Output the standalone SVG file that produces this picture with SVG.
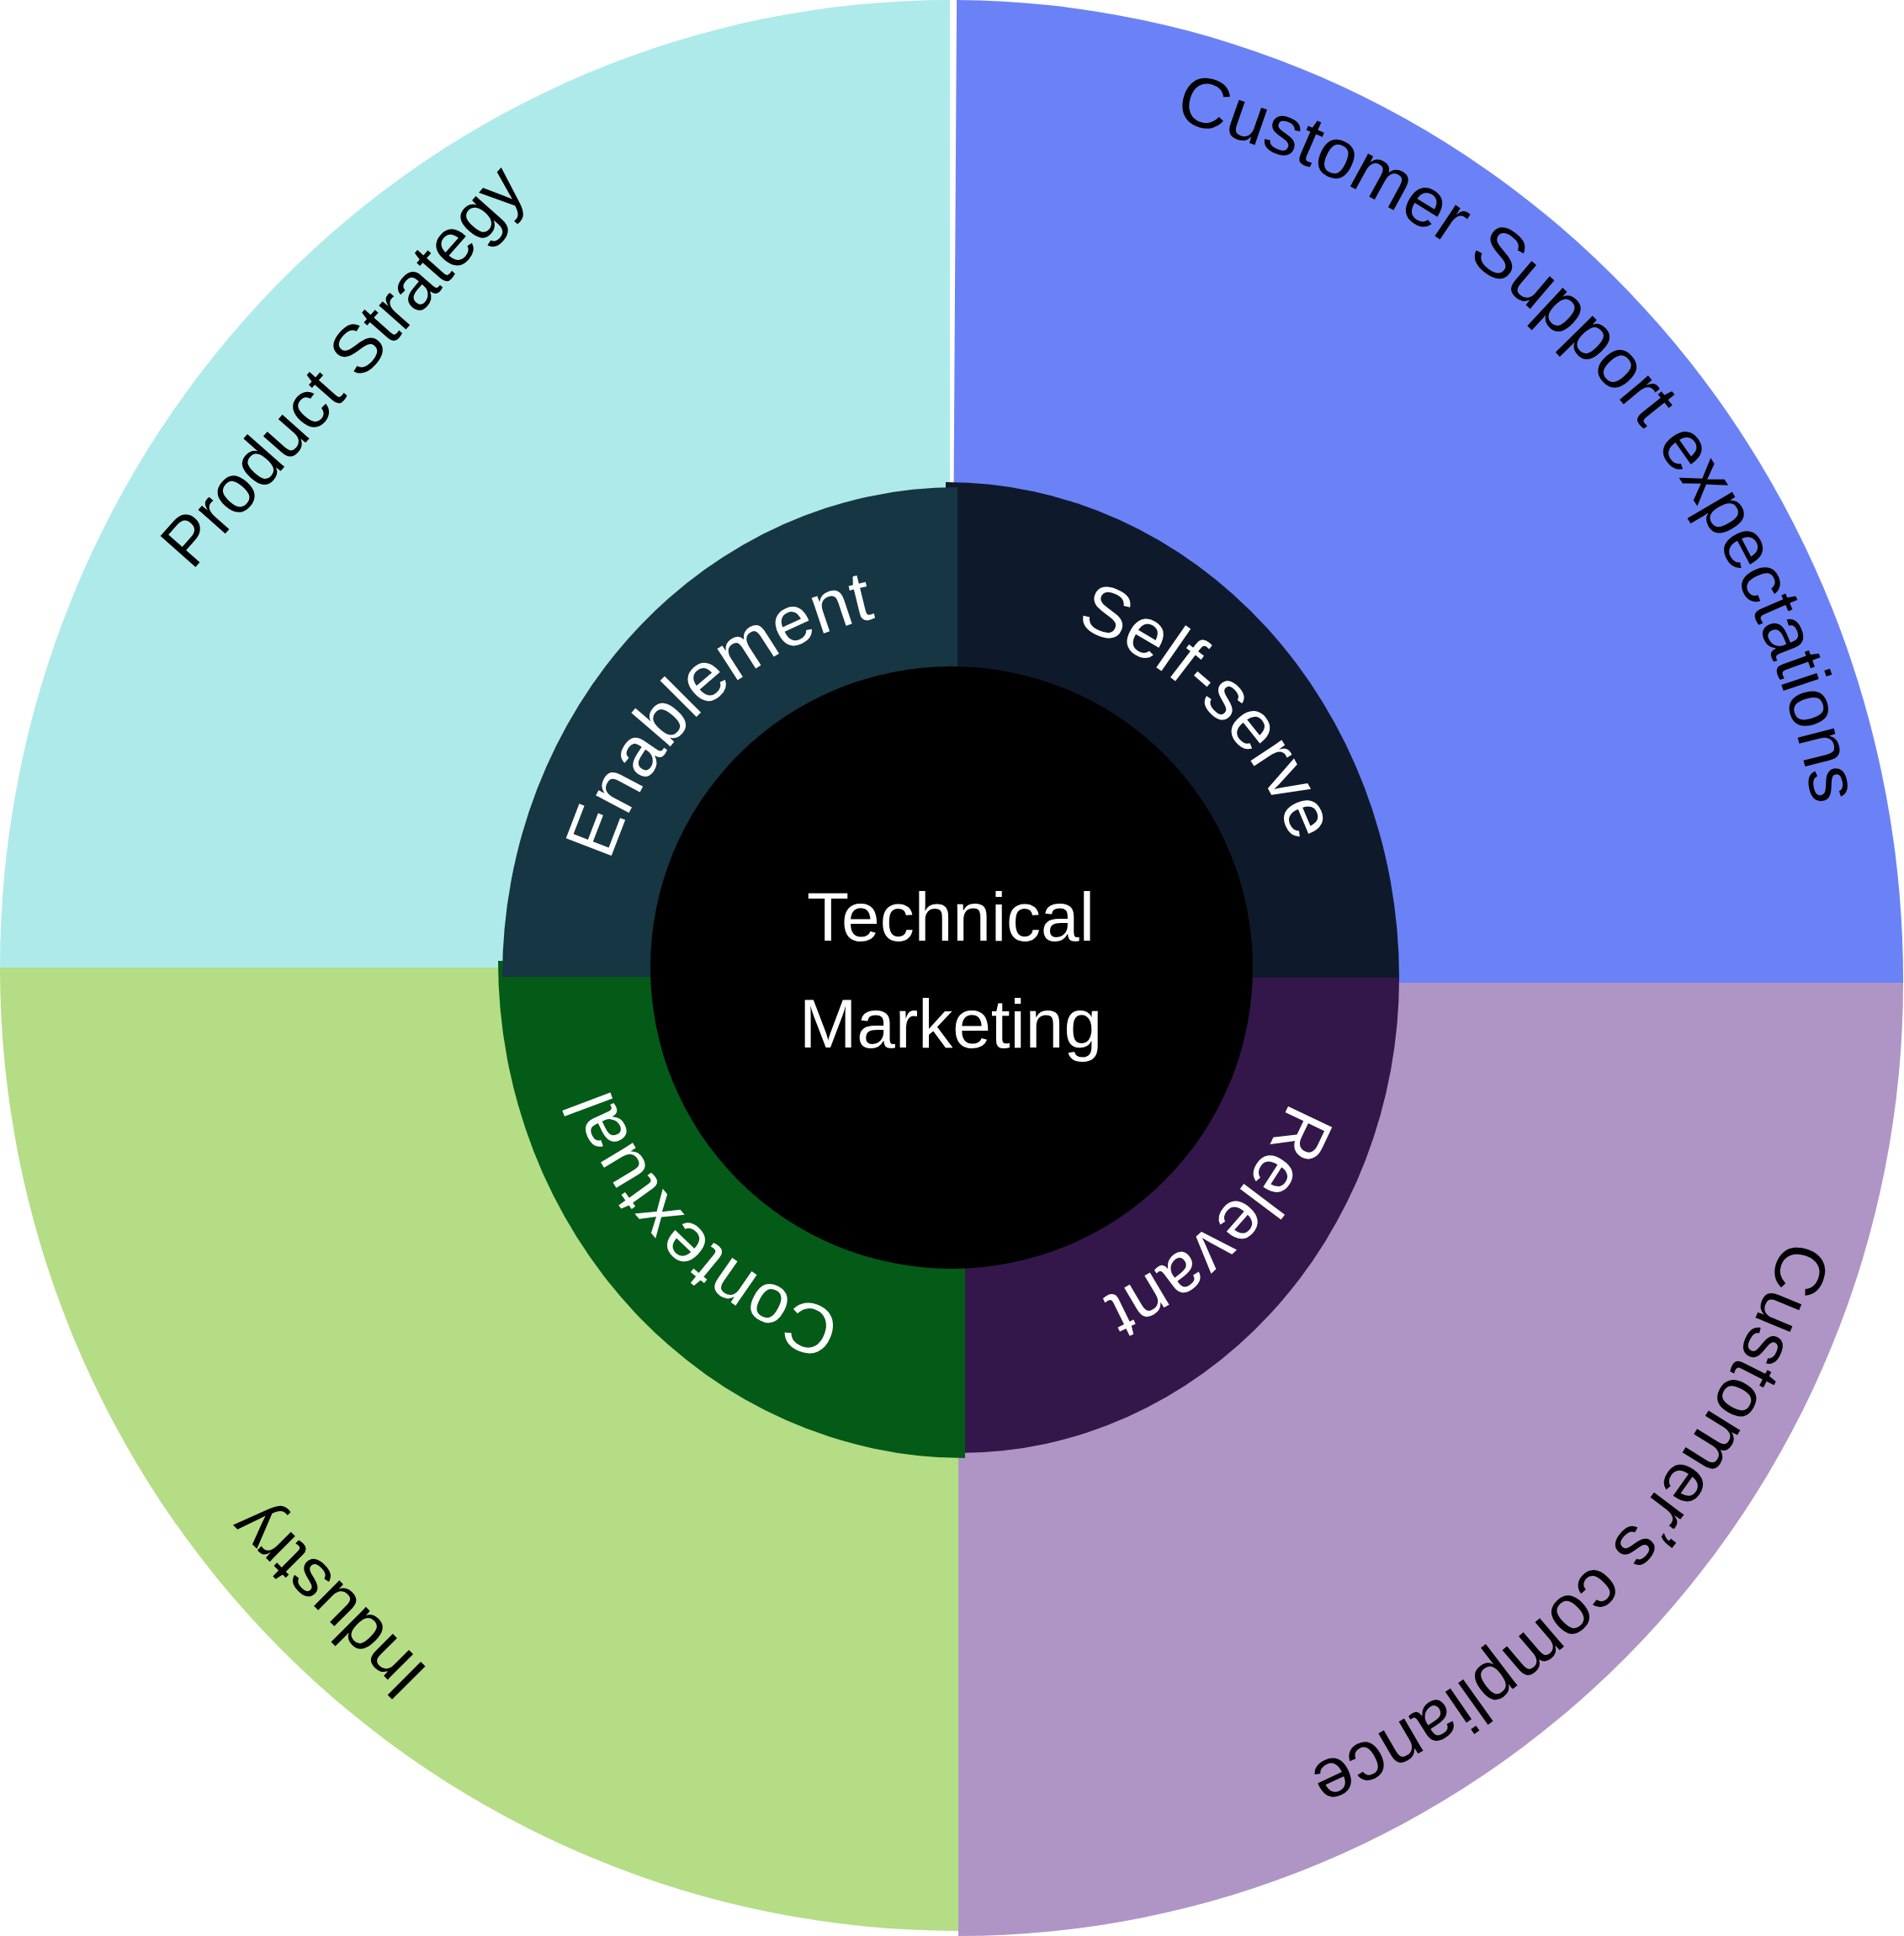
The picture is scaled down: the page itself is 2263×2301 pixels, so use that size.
<svg xmlns="http://www.w3.org/2000/svg" xmlns:xlink="http://www.w3.org/1999/xlink" width="2263" height="2301" viewBox="0 0 2263 2301">
<style>
text { font-family: "Liberation Sans", Arial, sans-serif; }
.outer { font-size: 84px; fill: #000000; }
.straight { font-size: 81px; fill: #000000; text-anchor: middle; }
.inner { font-size: 84px; fill: #ffffff; }
.center { font-size: 82px; fill: #ffffff; text-anchor: middle; }
</style>
<defs>
<path id="pCSE" d="M723.9,190.8 A1042,1042 0 0 1 2059.4,1623.1"/>
<path id="pCC" d="M2122.0,828.0 A1042,1042 0 0 1 914.4,2169.2"/>
<path id="pEn" d="M738.3,1312.6 A425,425 0 0 1 1327.2,773.0"/>
<path id="pSS" d="M948.4,758.5 A432,432 0 0 1 1522.5,1332.6"/>
<path id="pRe" d="M1517.6,957.2 A432,432 0 0 1 958.8,1546.2"/>
<path id="pCo" d="M1320.4,1538.3 A432,432 0 0 1 736.4,974.3"/>
</defs>
<rect width="2263" height="2301" fill="#ffffff"/>
<g id="product-strategy">
<path d="M1129,1150 L0,1150 A1129,1150 0 0 1 1129,0 Z" fill="#aeeaea"/>
</g>
<g id="customer-support-expectations">
<path transform="rotate(0.35 1130 1165)" d="M1130,1165 L1130,0 A1132,1165 0 0 1 2262,1165 Z" fill="#6b82f6"/>
</g>
<g id="customers-compliance">
<path d="M1139,1168 L2262,1168 A1123,1133 0 0 1 1139,2301 Z" fill="#af95c6"/>
</g>
<g id="industry">
<path d="M1139,1150 L1139,2295 A1139,1145 0 0 1 0,1150 Z" fill="#b4dd85"/>
</g>
<g id="self-serve">
<path d="M1124,1162 L1124,573 A539,589 0 0 1 1663,1162 Z" fill="#0e1a2c"/>
</g>
<g id="relevant">
<path d="M1140,1162 L1663,1162 A523,565 0 0 1 1140,1727 Z" fill="#34174a"/>
</g>
<g id="contextual">
<path d="M1147,1142 L1147,1733 A555,591 0 0 1 592,1142 Z" fill="#045b18"/>
</g>
<g id="enablement">
<path d="M1138,1161 L597,1161 A541,582 0 0 1 1138,579 Z" fill="#163643"/>
</g>
<g id="technical-marketing">
<circle cx="1131" cy="1150" r="358" fill="#000000"/>
<text class="center" x="1130" y="1118">Technical</text>
<text class="center" x="1130" y="1245">Marketing</text>
</g>
<g id="labels">
<text class="straight" transform="translate(428,453) rotate(-48.5)">Product Strategy</text>
<text class="outer"><textPath xlink:href="#pCSE" startOffset="50%" text-anchor="middle">Customer Support expectations</textPath></text>
<text class="outer"><textPath xlink:href="#pCC" startOffset="50%" text-anchor="middle">Customer’s compliance</textPath></text>
<text class="straight" transform="translate(409,1884) rotate(225)">Industry</text>
<text class="inner"><textPath xlink:href="#pEn" startOffset="50%" text-anchor="middle">Enablement</textPath></text>
<text class="inner"><textPath xlink:href="#pSS" startOffset="50%" text-anchor="middle">Self-serve</textPath></text>
<text class="inner"><textPath xlink:href="#pRe" startOffset="50%" text-anchor="middle">Relevant</textPath></text>
<text class="inner"><textPath xlink:href="#pCo" startOffset="50%" text-anchor="middle">Contextual</textPath></text>
</g>
<g id="connectors"/>
</svg>
